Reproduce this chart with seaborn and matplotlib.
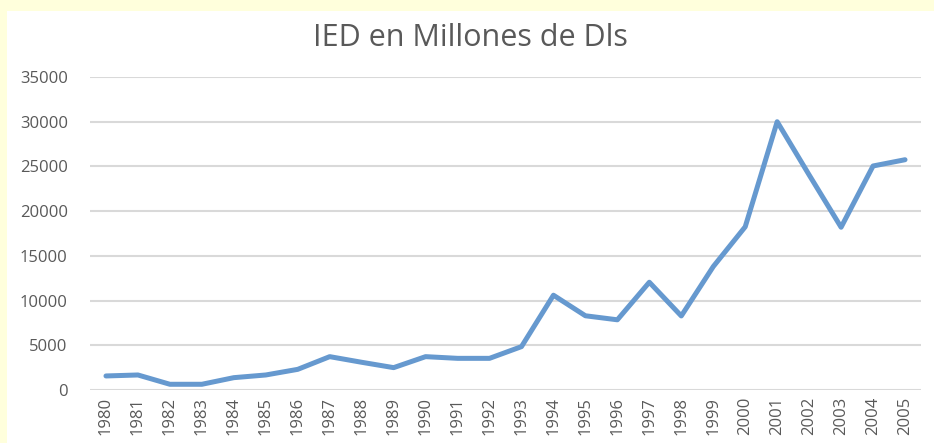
import matplotlib
matplotlib.use("Agg")
import matplotlib.pyplot as plt
import pandas as pd
import seaborn as sns

years = list(range(1980, 2006))
ied = [1570, 1680, 640, 640, 1380, 1680, 2310, 3730, 3100, 2500,
       3730, 3540, 3540, 4850, 10600, 8300, 7850, 12050, 8280, 13800,
       18250, 30000, 24050, 18200, 25050, 25750]
y_ticks = list(range(0, 35001, 5000))

df = pd.DataFrame({"year": years, "ied": ied})

sns.set_theme(style="white")
plt.rcParams["font.family"] = ["Open Sans", "DejaVu Sans"]

fig = plt.figure(figsize=(9.34, 4.43), dpi=100)
fig.patch.set_facecolor("#FFFFDC")
# white chart area inside the yellow frame
bg = fig.add_axes([7 / 934, 0, 1, 1 - 11 / 443], zorder=-1)
bg.axis("off")
bg.add_patch(plt.Rectangle((0, 0), 1, 1, transform=bg.transAxes, facecolor="white",
                           edgecolor="none"))

ax = fig.add_axes([90 / 934, 1 - 390 / 443, 831 / 934, 313 / 443])
ax.set_facecolor("white")

sns.lineplot(data=df, x="year", y="ied", ax=ax, color="#6699CF", linewidth=3.6,
             solid_capstyle="round", solid_joinstyle="round", zorder=3)

ax.set_xlim(1979.5, 2005.5)
ax.set_ylim(0, 35000)
ax.set_xticks(years)
ax.set_xticklabels([str(y) for y in years], rotation=90)
ax.set_yticks(y_ticks)
ax.set_yticklabels([str(v) for v in y_ticks])
ax.tick_params(axis="both", colors="#595959", labelsize=12, length=0)
ax.tick_params(axis="y", pad=16)
ax.tick_params(axis="x", pad=5)
ax.grid(axis="y", color="#D9D9D9", linewidth=1.5)
ax.set_axisbelow(True)
for s in ax.spines.values():
    s.set_visible(False)
ax.set_xlabel("")
ax.set_ylabel("")

fig.text(470 / 934, 1 - 38 / 443, "IED en Millones de Dls", ha="center", va="center",
         fontsize=22, color="#595959")

fig.savefig("out.png", dpi=100)
